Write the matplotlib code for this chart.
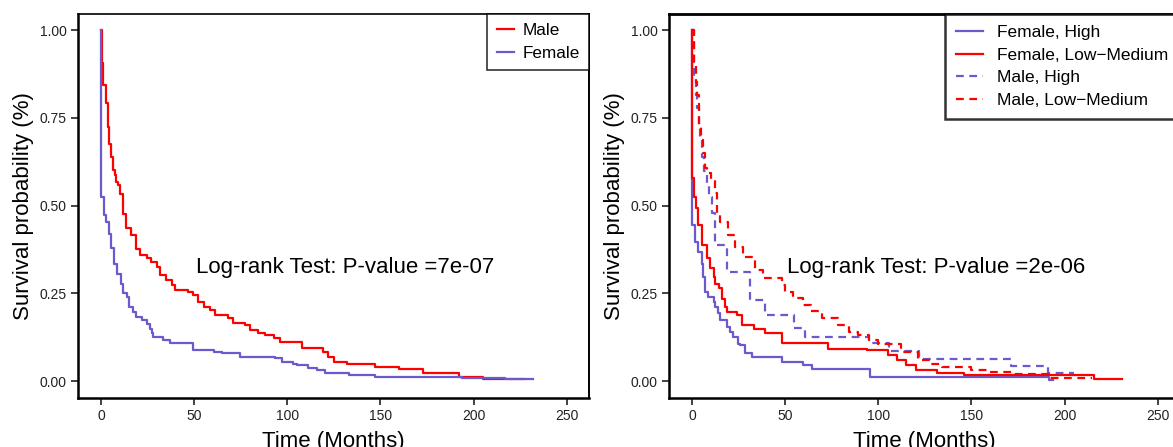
import matplotlib
matplotlib.use('Agg')
import matplotlib.pyplot as plt

plt.rcParams['font.family'] = ['Liberation Sans', 'DejaVu Sans']

RED = '#FF0000'
PURPLE = '#6A5ACD'

# left panel: sex
male_t = [0, 0.3, 0.9, 2.7, 3.6, 4.5, 5.4, 6.3, 7.2, 8.1, 9, 10.2, 12, 13.4, 16, 19, 21, 24.7, 27, 30,
          31.7, 35, 38, 39.8, 46.9, 49.6, 52.3, 55, 58.6, 61, 68.4, 71, 77.4, 80, 84.5, 88, 92.6, 96,
          108, 119, 122, 125, 132, 147, 160, 173, 192, 205, 227]
male_s = [1.0, 0.905, 0.843, 0.793, 0.724, 0.677, 0.639, 0.601, 0.587, 0.568, 0.558, 0.534, 0.477, 0.435,
          0.416, 0.376, 0.359, 0.35, 0.34, 0.325, 0.302, 0.288, 0.274, 0.259, 0.254, 0.245, 0.225, 0.211,
          0.202, 0.188, 0.18, 0.165, 0.16, 0.145, 0.137, 0.131, 0.122, 0.111, 0.094, 0.083, 0.068, 0.054,
          0.048, 0.04, 0.034, 0.023, 0.011, 0.006, 0.006]
female_t = [0, 0.05, 1.3, 2.7, 4, 5.4, 7, 8.4, 10.8, 12, 13.8, 15, 17, 19, 22, 24.6, 26.3, 27.2, 28, 33.5,
            37, 49.6, 60.4, 65, 74.7, 93.5, 97, 103, 105, 111, 116, 120.5, 133, 147, 194, 217, 232]
female_s = [1.0, 0.525, 0.473, 0.454, 0.42, 0.378, 0.335, 0.306, 0.278, 0.25, 0.24, 0.212, 0.197, 0.183,
            0.174, 0.164, 0.15, 0.136, 0.126, 0.117, 0.11, 0.088, 0.084, 0.079, 0.068, 0.065, 0.055, 0.05,
            0.045, 0.038, 0.032, 0.022, 0.018, 0.012, 0.01, 0.006, 0.006]

# right panel: sex x expression
fh_t = [0, 0.05, 1.6, 3.4, 5.2, 6, 7, 8.8, 11.5, 12.4, 14, 15, 18.7, 20.4, 22.2, 24.9, 25.8, 28.5, 32,
        48.2, 59.8, 64.4, 95.7, 191.5, 194]
fh_s = [1.0, 0.444, 0.397, 0.368, 0.335, 0.297, 0.254, 0.24, 0.226, 0.212, 0.193, 0.174, 0.155, 0.14,
        0.126, 0.107, 0.103, 0.079, 0.069, 0.055, 0.046, 0.034, 0.012, 0.003, 0.003]
fl_t = [0, 0.1, 1.2, 2.2, 3.4, 5.2, 7.9, 9.7, 11.5, 12.4, 14.2, 16, 17.7, 18.6, 24, 26.7, 33, 39.2, 48.2,
        73, 94, 105, 110, 115, 120, 131.5, 146, 216, 231]
fl_s = [1.0, 0.58, 0.525, 0.493, 0.444, 0.387, 0.35, 0.321, 0.297, 0.278, 0.264, 0.235, 0.212, 0.197,
        0.188, 0.16, 0.15, 0.136, 0.11, 0.093, 0.088, 0.074, 0.06, 0.046, 0.031, 0.022, 0.017, 0.007, 0.007]
mh_t = [0, 1.2, 2.2, 2.9, 3.8, 4.3, 5.2, 6.5, 7.9, 9.3, 10.9, 12.4, 18.7, 31, 39.2, 54.5, 60.4, 95, 106,
        121.7, 171, 191, 205]
mh_s = [1.0, 0.857, 0.815, 0.777, 0.73, 0.687, 0.64, 0.6, 0.563, 0.525, 0.48, 0.387, 0.311, 0.23, 0.188,
        0.151, 0.126, 0.11, 0.085, 0.064, 0.043, 0.022, 0.022]
ml_t = [0, 1.2, 2.1, 2.5, 3.8, 4.8, 6, 7, 8.2, 10, 12.4, 13.3, 15, 19.5, 23, 27.4, 33.9, 38.2, 48.2, 50,
        54.3, 59.7, 64, 70, 78.5, 84, 89, 95, 100, 112, 121.5, 128, 134, 150, 159, 172, 192, 215]
ml_s = [1.0, 0.91, 0.853, 0.815, 0.724, 0.687, 0.65, 0.607, 0.592, 0.573, 0.535, 0.48, 0.454, 0.416,
        0.383, 0.354, 0.316, 0.293, 0.273, 0.254, 0.236, 0.217, 0.2, 0.18, 0.16, 0.14, 0.131, 0.117, 0.105,
        0.083, 0.06, 0.05, 0.04, 0.031, 0.025, 0.019, 0.009, 0.009]

x_ticks = [0, 50, 100, 150, 200, 250]
y_ticks = [0.0, 0.25, 0.5, 0.75, 1.0]
y_ticklabels = ['0.00', '0.25', '0.50', '0.75', '1.00']


def style_axes(ax, top_lw):
    ax.set_xlim(-12.4, 262)
    ax.set_ylim(-0.048, 1.046)
    ax.set_xticks(x_ticks)
    ax.set_yticks(y_ticks)
    ax.set_yticklabels(y_ticklabels)
    ax.tick_params(labelsize=10, length=5, width=1.2, pad=3, colors='#222222', labelcolor='#222222')
    for side in ['left', 'bottom']:
        ax.spines[side].set_linewidth(1.8)
    ax.spines['top'].set_linewidth(top_lw)
    ax.spines['right'].set_linewidth(1.4)
    ax.set_xlabel('Time (Months)', fontsize=16, labelpad=6)
    ax.set_ylabel('Survival probability (%)', fontsize=16, labelpad=4)


fig = plt.figure(figsize=(11.73, 4.47), dpi=100)
ax1 = fig.add_axes([78 / 1173, 49 / 447, 511 / 1173, 384 / 447])
ax2 = fig.add_axes([669 / 1173, 49 / 447, 511 / 1173, 384 / 447])

ax1.step(male_t, male_s, where='post', color=RED, lw=1.6, label='Male')
ax1.step(female_t, female_s, where='post', color=PURPLE, lw=1.6, label='Female')
style_axes(ax1, 1.2)
ax1.text(51, 0.325, 'Log-rank Test: P-value =7e-07', fontsize=16, ha='left', va='center')
leg1 = ax1.legend(loc='upper right', borderaxespad=0, fontsize=12.3, frameon=True, fancybox=False,
                  edgecolor='black', handlelength=1.0, handletextpad=0.5, labelspacing=0.44, borderpad=0.55)
leg1.get_frame().set_linewidth(1.2)

ax2.step(fh_t, fh_s, where='post', color=PURPLE, lw=1.6, label='Female, High')
ax2.step(fl_t, fl_s, where='post', color=RED, lw=1.6, label='Female, Low\u2212Medium')
ax2.step(mh_t, mh_s, where='post', color=PURPLE, lw=1.6, dashes=(3.5, 2.5), label='Male, High')
ax2.step(ml_t, ml_s, where='post', color=RED, lw=1.6, dashes=(3.5, 2.5), label='Male, Low\u2212Medium')
style_axes(ax2, 2.0)
ax2.text(51, 0.325, 'Log-rank Test: P-value =2e-06', fontsize=16, ha='left', va='center')
leg2 = ax2.legend(loc='upper right', borderaxespad=0, fontsize=12.5, frameon=True, fancybox=False,
                  edgecolor='black', handlelength=1.55, handletextpad=0.85, labelspacing=0.42, borderpad=0.65)
leg2.get_frame().set_linewidth(1.8)

fig.savefig('out.png', dpi=100)
